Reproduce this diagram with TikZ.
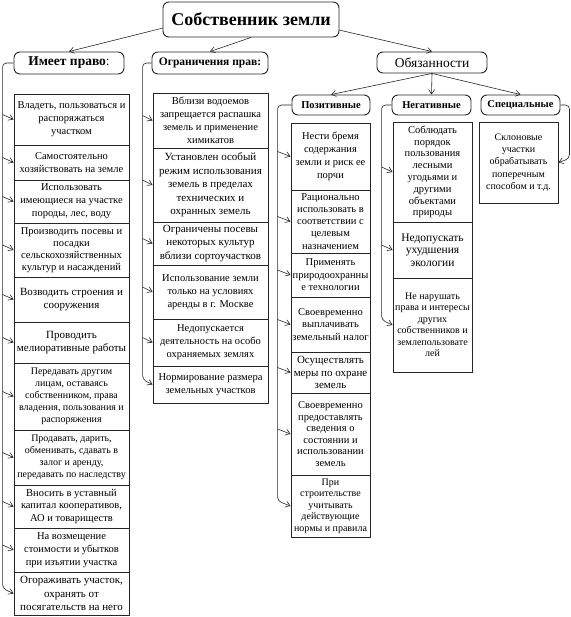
\documentclass[tikz,border=0pt]{standalone}
\usepackage{fontspec}
\setmainfont{Liberation Serif}
\usetikzlibrary{arrows.meta,calc}
\newcommand\bx[9][box]{%
  \pgfmathsetmacro\bxw{#5-#3}%
  \pgfmathsetmacro\bxh{#6-#4}%
  \pgfmathsetmacro\bxs{#8*#7}%
  \node[#1, minimum width=\bxw pt, minimum height=\bxh pt, font=\fontsize{#7}{\bxs}\selectfont] (#2) at ({(#3+#5)/2},{(#4+#6)/2}) {#9};}
\begin{document}
\begin{tikzpicture}[x=1pt,y=-1pt,
  box/.style={draw=black!85, line width=0.9pt, align=center, inner sep=0.5pt, fill=white},
  rbox/.style={box, rounded corners=6pt},
  conn/.style={draw=black!85, line width=0.6pt},
  arr/.style={conn, -{Straight Barb[length=4.5pt,width=6pt]}}]
\useasboundingbox (0,0) rectangle (570,617);
% headers
\bx[rbox]{top}{163}{2}{339}{37}{18}{1.2}{\textbf{Собственник земли}}
\bx[rbox]{imeet}{14}{52}{124}{74}{13.5}{1.2}{\textbf{Имеет право}:}
\bx[rbox]{ogr}{152}{52}{268}{74}{11.5}{1.2}{\textbf{Ограничения прав:}}
\bx[rbox]{obz}{377}{52}{487}{73}{13.5}{1.2}{Обязанности}
\bx[rbox]{poz}{292}{95}{370}{115}{10.5}{1.2}{\textbf{Позитивные}}
\bx[rbox]{neg}{392}{95}{471}{115}{10.5}{1.2}{\textbf{Негативные}}
\bx[rbox]{spec}{481}{95}{560}{115}{10.5}{1.2}{\textbf{Специальные}}
% left column
\bx{l1}{14}{94}{129}{145}{10.5}{1.25}{Владеть, пользоваться и\\распоряжаться\\участком}
\bx{l2}{14}{145}{129}{180}{10.5}{1.25}{Самостоятельно\\хозяйствовать на земле}
\bx{l3}{14}{180}{129}{223}{10.5}{1.25}{Использовать\\имеющиеся на участке\\породы, лес, воду}
\bx{l4}{14}{223}{129}{277}{10.5}{1.15}{Производить посевы и\\посадки\\сельскохозяйственных\\культур и насаждений}
\bx{l5}{14}{277}{129}{322}{11}{1.22}{Возводить строения и\\сооружения}
\bx{l6}{14}{322}{129}{363}{11}{1.22}{Проводить\\мелиоративные работы}
\bx{l7}{14}{363}{129}{430}{10}{1.2}{Передавать другим\\лицам, оставаясь\\собственником, права\\владения, пользования и\\распоряжения}
\bx{l8}{14}{430}{129}{485}{10}{1.2}{Продавать, дарить,\\обменивать, сдавать в\\залог и аренду,\\передавать по наследству}
\bx{l9}{14}{485}{129}{528}{10.5}{1.22}{Вносить в уставный\\капитал кооперативов,\\АО и товариществ}
\bx{l10}{14}{528}{129}{572}{10.5}{1.22}{На возмещение\\стоимости и убытков\\при изъятии участка}
\bx{l11}{14}{572}{129}{615}{11}{1.2}{Огораживать участок,\\охранять от\\посягательств на него}
% middle column
\bx{m1}{153}{93}{268}{148}{10.5}{1.22}{Вблизи водоемов\\запрещается распашка\\земель и применение\\химикатов}
\bx{m2}{153}{148}{268}{222}{11}{1.22}{Установлен особый\\режим использования\\земель в пределах\\технических и\\охранных земель}
\bx{m3}{153}{222}{268}{265}{11}{1.2}{Ограничены посевы\\некоторых культур\\вблизи сортоучастков}
\bx{m4}{153}{265}{268}{319}{10.5}{1.25}{Использование земли\\только на условиях\\аренды в г. Москве}
\bx{m5}{153}{319}{268}{366}{10.5}{1.25}{Недопускается\\деятельность на особо\\охраняемых землях}
\bx{m6}{153}{366}{268}{403}{10.5}{1.22}{Нормирование размера\\земельных участков}
% positive
\bx{p1}{291}{123}{370}{190}{10.5}{1.25}{Нести бремя\\содержания\\земли и риск ее\\порчи}
\bx{p2}{291}{190}{370}{253}{10.5}{1.15}{Рационально\\использовать в\\соответствии с\\целевым\\назначением}
\bx{p3}{291}{253}{370}{297}{10.5}{1.2}{Применять\\природоохранны\\е технологии}
\bx{p4}{291}{297}{370}{352}{10.5}{1.22}{Своевременно\\выплачивать\\земельный налог}
\bx{p5}{291}{352}{370}{393}{11}{1.1}{Осуществлять\\меры по охране\\земель}
\bx{p6}{291}{393}{370}{475}{10.5}{1.1}{Своевременно\\предоставлять\\сведения о\\состоянии и\\использовании\\земель}
\bx{p7}{291}{475}{370}{537}{10}{1.15}{При\\строительстве\\учитывать\\действующие\\нормы и правила}
% negative
\bx{n1}{393}{122}{472}{222}{10.5}{1.12}{Соблюдать\\порядок\\пользования\\лесными\\угодьями и\\другими\\объектами\\природы}
\bx{n2}{393}{222}{472}{278}{11.5}{1.1}{Недопускать\\ухудшения\\экологии}
\bx{n3}{393}{278}{472}{372}{10}{1.15}{Не нарушать\\права и интересы\\других\\собственников и\\землепользовате\\лей}
% special
\bx{s1}{479}{122}{558}{203}{10}{1.22}{Склоновые\\участки\\обрабатывать\\поперечным\\способом и т.д.}
% top connectors
\coordinate (t1) at (163,28);
\coordinate (t3) at (339,30);
\draw[arr] (t1) -- (imeet.north);
\draw[arr] (top.south) -- (ogr.north);
\draw[arr] (t3) -- (obz.north);
\draw[arr] (obz.south) -- (poz.north);
\draw[arr] (obz.south) -- (neg.north);
\draw[arr] (obz.south) -- (spec.north);
% left branch
\path (l11.west) ++(-11,-5) coordinate (Le);
\draw[arr, rounded corners=4] (imeet.west) -| (Le) -- (l11.west);
\foreach \i in {1,...,10}{
  \path (l\i.west) ++(-11,-5) coordinate (Ls\i);
  \draw[arr] (Ls\i) -- (l\i.west);}
% middle branch
\path (m6.west) ++(-10,-5) coordinate (Me);
\draw[arr, rounded corners=4] (ogr.west) -| (Me) -- (m6.west);
\foreach \i in {1,...,5}{
  \path (m\i.west) ++(-10,-5) coordinate (Ms\i);
  \draw[arr] (Ms\i) -- (m\i.west);}
% positive branch
\path (p7.west) ++(-13,-5) coordinate (Pe);
\draw[arr, rounded corners=4] (poz.west) -| (Pe) -- (p7.west);
\foreach \i in {1,...,6}{
  \path (p\i.west) ++(-13,-5) coordinate (Ps\i);
  \draw[arr] (Ps\i) -- (p\i.west);}
% negative branch
\path (n3.west) ++(-11,-5) coordinate (Ne);
\draw[arr, rounded corners=4] (neg.west) -| (Ne) -- (n3.west);
\foreach \i in {1,2}{
  \path (n\i.west) ++(-11,-5) coordinate (Ns\i);
  \draw[arr] (Ns\i) -- (n\i.west);}
% special branch
\path (s1.east) ++(11,-4) coordinate (Se);
\draw[arr, rounded corners=4] (spec.east) -| (Se) -- (s1.east);
\end{tikzpicture}
\end{document}
